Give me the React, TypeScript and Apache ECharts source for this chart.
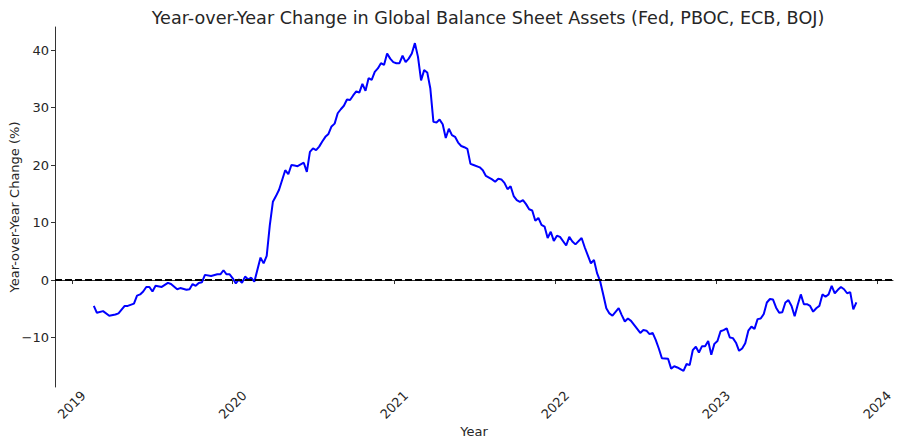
import React, { useEffect, useRef } from "react";
import * as echarts from "echarts";

const TITLE = "Year-over-Year Change in Global Balance Sheet Assets (Fed, PBOC, ECB, BOJ)";
const X_NAME = "Year";
const Y_NAME = "Year-over-Year Change (%)";
const START_DATE = Date.UTC(2019, 1, 20);
const WEEK_MS = 7 * 86400000;

// week offsets from START_DATE
const weekIdx = [
  0, 1, 3, 5, 7, 8, 10, 11, 13, 14, 15, 16, 17, 18, 19, 20, 22, 24, 25, 27, 28, 30, 31, 32, 33, 34, 35, 36, 38, 40,
  41, 42, 43, 44, 45, 46, 47, 48, 49, 50, 51, 52, 54, 55, 56, 57, 58, 59, 60, 61, 62, 63, 64, 65, 66, 68, 69, 70, 71, 72,
  73, 74, 75, 76, 77, 78, 79, 80, 81, 82, 83, 84, 85, 86, 87, 88, 89, 90, 91, 92, 93, 94, 95, 96, 97, 98, 99, 100, 101, 102,
  103, 104, 105, 106, 107, 108, 109, 110, 111, 112, 113, 114, 115, 116, 117, 118, 119, 120, 121, 122, 123, 125, 126, 127, 128, 129, 130, 131, 132, 133,
  134, 135, 136, 137, 138, 139, 140, 141, 142, 143, 144, 145, 146, 147, 148, 149, 150, 151, 153, 154, 155, 156, 158, 159, 161, 162, 163, 164, 165, 166,
  167, 168, 170, 171, 172, 173, 174, 175, 177, 178, 179, 180, 181, 182, 183, 184, 186, 187, 188, 189, 191, 192, 193, 194, 195, 196, 197, 198, 199, 200,
  201, 202, 203, 204, 205, 206, 207, 208, 209, 210, 211, 212, 213, 214, 215, 216, 217, 218, 219, 220, 221, 222, 223, 224, 225, 226, 227, 228, 229, 230,
  231, 232, 233, 234, 235, 236, 237, 238, 239, 240, 241, 242, 243, 244, 245, 246, 247,
];

const yoyValues = [
  -4.5, -5.7, -5.4, -6.2, -6.0, -5.8, -4.5, -4.5, -4.1, -2.7, -2.5, -2.0, -1.2, -1.2, -2.0, -1.0, -1.2, -0.5, -0.7, -1.6, -1.4, -1.7, -1.6, -0.7, -1.0, -0.5, -0.4, 0.9, 0.7, 1.0,
  1.0, 1.7, 1.0, 1.0, 0.3, -0.6, 0.1, -0.5, 0.6, 0.1, 0.4, -0.3, 3.9, 2.9, 4.2, 9.5, 13.6, 14.6, 15.7, 17.4, 19.1, 18.4, 20.0, 19.9, 19.8, 20.4, 18.8, 22.3, 22.9, 22.6,
  23.2, 24.1, 24.9, 25.4, 26.7, 27.2, 29.0, 29.7, 30.3, 31.4, 31.3, 32.1, 32.8, 32.6, 34.1, 32.9, 35.1, 34.8, 36.2, 36.8, 37.7, 37.4, 39.4, 38.5, 37.9, 37.7, 37.7, 39.0, 37.9, 38.5,
  39.4, 41.2, 38.8, 34.7, 36.5, 36.1, 33.3, 27.5, 27.4, 27.9, 27.1, 24.7, 26.3, 25.2, 24.9, 23.9, 23.3, 23.1, 22.8, 20.2, 20.0, 19.6, 19.1, 18.1, 17.8, 17.5, 17.1, 17.6, 17.5, 16.9,
  15.8, 16.3, 14.6, 13.9, 13.6, 13.9, 13.2, 12.3, 12.1, 10.3, 10.8, 9.6, 9.3, 7.3, 8.4, 6.8, 7.7, 7.5, 6.0, 7.5, 6.7, 6.2, 7.3, 5.7, 2.9, 3.5, 1.2, -0.2, -2.5, -4.9,
  -5.8, -6.2, -4.9, -6.1, -7.2, -6.7, -7.1, -7.8, -9.2, -8.7, -8.8, -9.4, -9.2, -10.4, -11.9, -13.6, -13.7, -15.4, -15.0, -15.2, -15.8, -14.6, -14.8, -12.2, -11.6, -12.6, -11.5, -11.5, -10.6, -13.0,
  -11.1, -10.6, -8.9, -8.7, -8.4, -10.0, -10.1, -10.9, -12.3, -11.9, -11.0, -8.8, -8.1, -8.5, -6.8, -6.7, -5.9, -3.9, -3.3, -3.4, -4.8, -5.7, -5.6, -3.9, -3.5, -4.5, -6.3, -4.3, -2.5, -4.2,
  -4.2, -4.5, -5.5, -4.9, -4.5, -2.5, -2.9, -2.5, -1.0, -2.3, -1.7, -1.2, -1.6, -2.3, -2.1, -5.1, -3.9,
];

const yearTicks = [2019, 2020, 2021, 2022, 2023, 2024];
const yTicks = [-10, 0, 10, 20, 30, 40];

const FONT = "DejaVu Sans";
const TEXT = "#262626";
const AXIS = "#333333";

export default function App() {
  const ref = useRef<HTMLDivElement>(null);

  useEffect(() => {
    document.body.style.margin = "0";
    if (!ref.current) return;
    const chart = echarts.init(ref.current, null, { renderer: "svg" });
    const data = weekIdx.map((w, i) => [START_DATE + w * WEEK_MS, yoyValues[i]]);
    const xTickValues = yearTicks.map((y) => Date.UTC(y, 0, 1));
    const minus = (s: string) => s.replace("-", "\u2212");

    chart.setOption({
      animation: false,
      backgroundColor: "#ffffff",
      textStyle: { fontFamily: FONT },
      title: {
        text: TITLE,
        left: 483,
        top: 4,
        textAlign: "center",
        textStyle: { fontFamily: FONT, fontSize: 17.6, fontWeight: "normal", color: TEXT },
      },
      grid: { left: 55, right: 7, top: 27, bottom: 60, containLabel: false, outerBoundsMode: "none" },
      xAxis: {
        type: "value",
        min: Date.UTC(2018, 10, 24),
        max: Date.UTC(2024, 1, 6),
        name: X_NAME,
        nameLocation: "middle",
        nameGap: 38,
        nameMoveOverlap: false,
        nameTextStyle: { fontFamily: FONT, fontSize: 13, color: TEXT },
        axisLine: { lineStyle: { color: AXIS, width: 1 } },
        axisTick: { show: true, length: 4, inside: false, lineStyle: { color: AXIS }, customValues: xTickValues },
        axisLabel: {
          customValues: xTickValues,
          rotate: 45,
          align: "center",
          verticalAlign: "middle",
          margin: 18,
          fontFamily: FONT,
          fontSize: 13,
          color: TEXT,
          formatter: (v: number) => String(new Date(v).getUTCFullYear()),
        },
        splitLine: { show: false },
      },
      yAxis: {
        type: "value",
        min: -18.6,
        max: 44.0,
        name: Y_NAME,
        nameLocation: "middle",
        nameGap: 34,
        nameMoveOverlap: false,
        nameRotate: 90,
        nameTextStyle: { fontFamily: FONT, fontSize: 13, color: TEXT },
        axisLine: { show: true, lineStyle: { color: AXIS, width: 1 } },
        axisTick: { show: true, length: 4, inside: false, lineStyle: { color: AXIS }, customValues: yTicks },
        axisLabel: {
          customValues: yTicks,
          margin: 6,
          fontFamily: FONT,
          fontSize: 13,
          color: TEXT,
          formatter: (v: number) => minus(String(v)),
        },
        splitLine: { show: false },
      },
      series: [
        {
          type: "line",
          data,
          showSymbol: false,
          symbol: "none",
          lineStyle: { color: "#0000ff", width: 2 },
          itemStyle: { color: "#0000ff" },
          z: 2,
          markLine: {
            silent: true,
            symbol: ["none", "none"],
            label: { show: false },
            lineStyle: { color: "#000000", type: [7, 3], width: 2 },
            data: [{ yAxis: 0 }],
            z: 3,
          },
        },
      ],
    });

    return () => chart.dispose();
  }, []);

  return <div ref={ref} style={{ width: 900, height: 447 }} />;
}
